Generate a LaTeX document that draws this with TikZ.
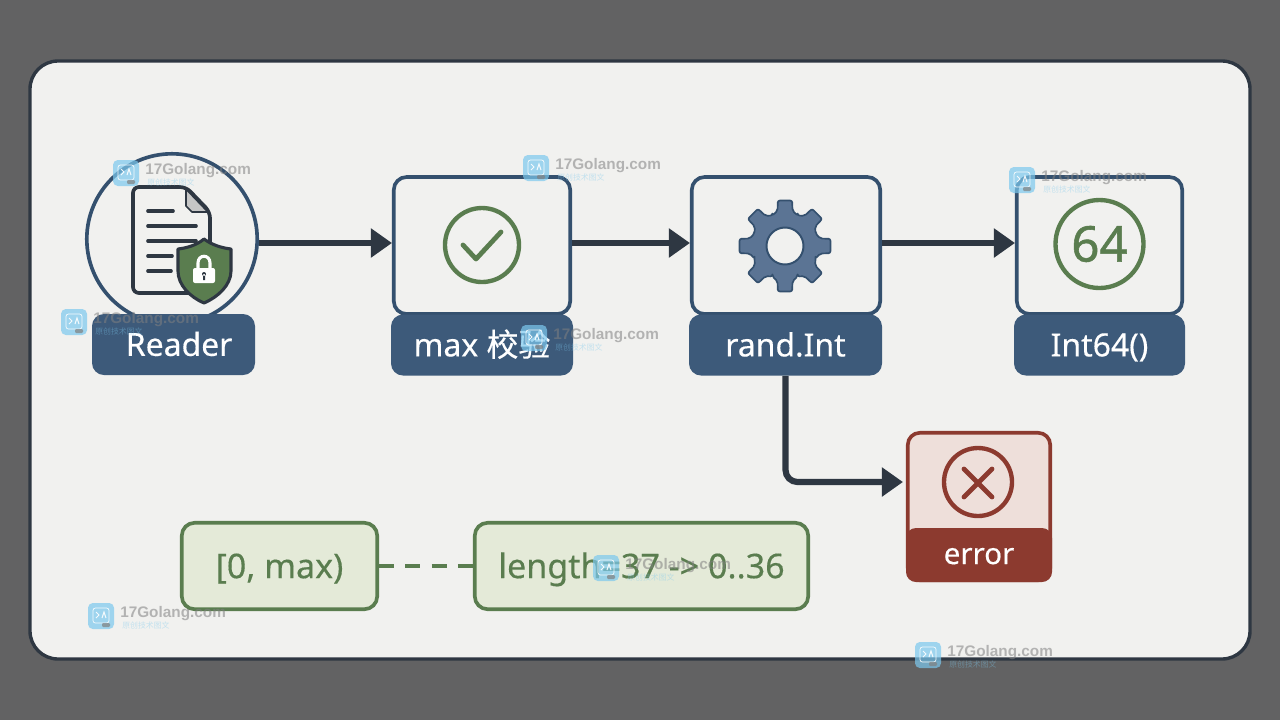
\documentclass[tikz,border=0pt]{standalone}
\usepackage{fontspec}
\setmainfont{Noto Sans}
\newfontfamily\medfont[FakeBold=0.35]{Noto Sans}
\newfontfamily\heavyfont[FakeBold=1.1]{Noto Sans}
\newfontfamily\cjkfont[FakeBold=0.35]{Noto Sans CJK SC}
\newfontfamily\cjkplain{Noto Sans CJK SC}
\newfontfamily\wmfont{Liberation Sans}
\usetikzlibrary{arrows.meta}
\newcommand{\px}{0.25mm}
\definecolor{slatebg}{HTML}{626263}
\definecolor{paper}{HTML}{F1F1EF}
\definecolor{inkdark}{HTML}{2E3742}
\definecolor{navy}{HTML}{3D5A7A}
\definecolor{navyline}{HTML}{34506E}
\definecolor{steel}{HTML}{5B7494}
\definecolor{leaf}{HTML}{5A7D4F}
\definecolor{leafpale}{HTML}{E4EAD8}
\definecolor{brick}{HTML}{8C3A2F}
\definecolor{brickpale}{HTML}{EEDFDA}
\definecolor{wmblue}{HTML}{7CC8EE}
\tikzset{
  iconbox/.style={draw=navyline, line width=2.6pt, fill=paper, rounded corners=3.2mm, minimum height=137*\px},
  pill/.style={fill=navy, text=white, rounded corners=3mm, minimum height=61*\px, font=\medfont\fontsize{22.7}{28}\selectfont, inner sep=0pt, text height=16.2pt, text depth=0pt},
  flow/.style={draw=inkdark, line width=4.4pt, -{Triangle[length=15pt,width=20pt]}},
  notebox/.style={draw=leaf, line width=2.6pt, fill=leafpale, rounded corners=3.2mm, text=leaf, minimum height=86.4*\px, inner sep=0pt, font=\medfont\fontsize{24.2}{30}\selectfont, text height=17.3pt, text depth=0pt},
  wmtext/.style={text=gray, opacity=.55, inner sep=0pt, anchor=west, font=\wmfont\bfseries\fontsize{10.9}{12}\selectfont},
  wmsub/.style={text=wmblue, opacity=.4, inner sep=0pt, anchor=west, font=\cjkplain\fontsize{5.6}{7}\selectfont}
}
\begin{document}
\begin{tikzpicture}[x=0.25mm, y=-0.25mm]
\useasboundingbox (0,0) rectangle (1280,720);
\fill[slatebg] (0,0) rectangle (1280,720);
% Panel
\draw[fill=paper, draw=inkdark, line width=2.4pt, rounded corners=7mm] (30,61) rectangle (1250,659);
% Reader
\node[draw=navyline, line width=2.6pt, fill=paper, circle, minimum size=170.4*\px, inner sep=0pt] (readericon) at (172,239) {};
\node[pill, minimum width=163*\px] (reader) at (173.5,344.5) {\hspace{8pt}Reader};
\draw[inkdark, line width=2.6pt, fill=paper, line join=round, rounded corners=1.5mm] (133,187) -- (186,187) -- (210,212) -- (210,293) -- (133,293) -- cycle;
\fill[gray!45, draw=inkdark, line width=1.2pt, line join=round] (186,189) -- (208,212) -- (192,212) -- (186,206) -- cycle;
\foreach \ly/\lx in {211/173, 226/196, 241/196, 256/172, 271/171}
  \draw[inkdark, line width=2.6pt, line cap=round] (148,\ly) -- (\lx,\ly);
\draw[inkdark, line width=2.2pt, fill=leaf, line join=round] (204,239) .. controls (212,245) and (222,248) .. (231,249) -- (231,271) .. controls (231,285) and (218,297) .. (204,303) .. controls (190,297) and (178,285) .. (178,271) -- (178,249) .. controls (187,248) and (197,245) .. (204,239) -- cycle;
\draw[white, line width=2.2pt] (198,270) -- (198,263) .. controls (198,254) and (210,254) .. (210,263) -- (210,270);
\fill[white, rounded corners=.5mm] (193,268) rectangle (215,283);
\fill[inkdark] (204,274) circle (2) (203,274) rectangle (205,280);
% max
\node[iconbox, minimum width=176.4*\px] (maxbox) at (482,245.5) {};
\node[pill, minimum width=182*\px] (maxcheck) at (482,345) {max {\cjkfont 校验}};
\node[draw=leaf, line width=3.1pt, circle, minimum size=74*\px, inner sep=0pt] (checkicon) at (482,245) {};
\draw[leaf, line width=3.4pt, line cap=round, line join=round] (463,245) -- (476,259) -- (501,232);
% rand.Int
\node[iconbox, minimum width=188.4*\px] (randbox) at (786,245.5) {};
\node[pill, minimum width=193*\px] (randint) at (785.5,345) {rand.Int};
\begin{scope}[shift={(785,246)}]
\draw[fill=steel, draw=navyline, line width=1.2pt, line join=round, rounded corners=.5mm]
  (-22.5:33) \foreach \a in {0,45,...,315} { -- (\a-22.5:33) -- (\a-12:36) -- (\a-9:46) -- (\a+9:46) -- (\a+12:36) -- (\a+22.5:33) } -- cycle;
\draw[fill=paper, draw=navyline, line width=1.4pt] (0,0) circle (18.5);
\end{scope}
% Int64
\node[iconbox, minimum width=165.4*\px] (intbox) at (1099.5,245.5) {};
\node[pill, minimum width=171*\px] (intcall) at (1099.5,345) {Int64()};
\node[draw=leaf, line width=3.1pt, circle, minimum size=88*\px, inner sep=0pt, text=leaf, font=\heavyfont\fontsize{35}{40}\selectfont] (bitsicon) at (1099.5,244) {64};
% error
\node[draw=brick, line width=2.6pt, fill=brickpale, rounded corners=3mm, minimum width=142.4*\px, minimum height=147.4*\px] (errbox) at (979,506.5) {};
\fill[brick, rounded corners=2.5mm] (906,528) rectangle (1052,582);
\fill[brick] (906,545) rectangle (1052,565);
\node[text=white, inner sep=0pt, text height=11.5pt, text depth=0pt, font=\medfont\fontsize{21}{25}\selectfont] (errlabel) at (979,556) {error};
\node[draw=brick, line width=3.1pt, circle, minimum size=68*\px, inner sep=0pt] (erricon) at (978,482) {};
\draw[brick, line width=3.4pt, line cap=round] (964,469) -- (992,497) (992,469) -- (964,497);
% Range notes
\node[notebox, minimum width=195.4*\px] (rangebox) at (279.5,566) {[0, max)};
\node[notebox, minimum width=333.4*\px] (lengthbox) at (641.5,566) {length=37 -> 0..36};
\draw[leaf, line width=3.5pt, dash pattern=on 10.7pt off 8pt] (rangebox.east) -- (lengthbox.west);
% Flow
\coordinate (flowline) at (0,243);
\draw[flow] (readericon.east |- flowline) -- (maxbox.west |- flowline);
\draw[flow] (maxbox.east |- flowline) -- (randbox.west |- flowline);
\draw[flow] (randbox.east |- flowline) -- (intbox.west |- flowline);
\draw[flow, rounded corners=3mm, shorten >=3*\px] (randint.south) |- (errbox.west |- erricon);
% Watermarks
\foreach \wx/\wy in {113/160, 523/155, 61/309, 521/325, 1009/167, 88/603, 593/555, 915/642} {
  \fill[wmblue, opacity=.7, rounded corners=1.2mm] (\wx,\wy) rectangle ++(26,26);
  \draw[white, opacity=.9, line width=.5pt, rounded corners=.6mm] (\wx+5,\wy+5) rectangle ++(16,15);
  \draw[white, opacity=.9, line width=.7pt] (\wx+8,\wy+9) -- ++(3,3) -- ++(-3,3) (\wx+14,\wy+15) -- ++(2,-6) -- ++(2,6);
  \fill[gray, opacity=.7, rounded corners=.3mm] (\wx+14,\wy+20) rectangle ++(8,4);
  \node[wmtext] (wm\wx) at (\wx+32,\wy+11) {17Golang.com};
  \node[wmsub] (wmsub\wx) at (\wx+34,\wy+22) {原创技术图文};
}
\end{tikzpicture}
\end{document}
